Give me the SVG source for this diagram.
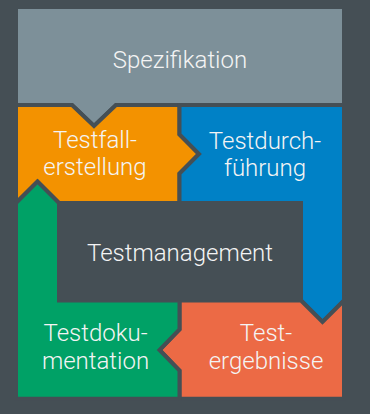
<svg xmlns="http://www.w3.org/2000/svg" width="370" height="414" viewBox="0 0 370 414">
<style>
.tile{stroke:#454f55;stroke-width:4;stroke-linejoin:miter}
.lbl{font-family:Roboto,"Liberation Sans",sans-serif;font-weight:300;font-size:24px;fill:#f4f4f4;text-anchor:middle}
</style>
<rect x="0" y="0" width="370" height="414" fill="#454f55"/>
<g id="spezifikation">
<polygon class="tile" fill="#7d9099" points="16,7 344,7 344,105 116,105 94,126 72,105 16,105"/>
<text class="lbl" x="180" y="68">Spezifikation</text>
</g>
<g id="testfallerstellung">
<polygon class="tile" fill="#f39200" points="16,105 72,105 94,126 116,105 179.5,105 179.5,134.5 199,154 179.5,173.5 179.5,203 59,203 37.5,181.5 16,203"/>
<text class="lbl" x="95" y="148">Testfall-</text>
<text class="lbl" x="95" y="175">erstellung</text>
</g>
<g id="testdurchfuehrung">
<polygon class="tile" fill="#0081c6" points="179.5,105 344,105 344,300.5 322.5,322 301,300.5 301,203 179.5,203 179.5,173.5 199,154 179.5,134.5"/>
<text class="lbl" x="265" y="149">Testdurch-</text>
<text class="lbl" x="265" y="176">führung</text>
</g>
<g id="testergebnisse">
<polygon class="tile" fill="#ec6a45" points="179.5,300.5 301,300.5 322.5,322 344,300.5 344,398.7 179.5,398.7 179.5,370.5 159.5,350 179.5,329.5"/>
<text class="lbl" x="266" y="341">Test-</text>
<text class="lbl" x="266" y="369">ergebnisse</text>
</g>
<g id="testdokumentation">
<polygon class="tile" fill="#00a166" points="16,203 37.5,181.5 59,203 59,300.5 179.5,300.5 179.5,329.5 159.5,350 179.5,370.5 179.5,398.7 16,398.7"/>
<text class="lbl" x="95.5" y="341">Testdoku-</text>
<text class="lbl" x="95.5" y="369">mentation</text>
</g>
<g id="testmanagement">
<rect x="59" y="203" width="242" height="97.5" fill="#454f55"/>
<text class="lbl" x="180" y="261">Testmanagement</text>
</g>
<g id="connectors"></g>
</svg>
